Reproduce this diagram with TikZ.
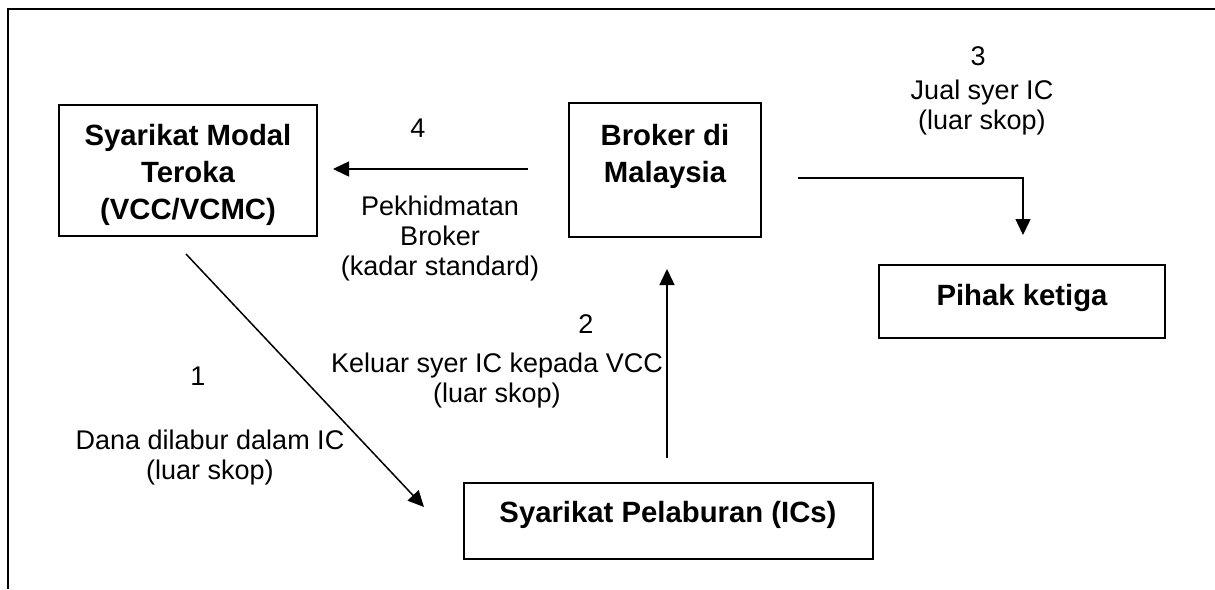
\documentclass[tikz,border=0pt]{standalone}
\usepackage{fontspec}
\setmainfont{Liberation Sans}
\usetikzlibrary{arrows.meta}
\begin{document}
\begin{tikzpicture}[x=1pt,y=-1pt,
  box/.style={draw, line width=1.6pt, inner sep=0pt},
  boxtext/.style={font=\bfseries\fontsize{29.3}{37}\selectfont, align=center, inner sep=0pt},
  lbl/.style={font=\fontsize{27}{30}\selectfont, align=center, inner sep=0pt},
  arr/.style={line width=1.5pt, -{Triangle[length=16pt,width=15pt]}}]
\useasboundingbox (0,0) rectangle (1215,589);
\draw[line width=1.6pt] (8,589) -- (8,9) -- (1215,9);

% boxes
\node[box, minimum width=258pt, minimum height=131pt] (vcc) at (188,170.5) {};
\node[box, minimum width=192pt, minimum height=134pt] (broker) at (665,170) {};
\node[box, minimum width=286pt, minimum height=73pt] (pihak) at (1022,301.5) {};
\node[box, minimum width=409pt, minimum height=76pt] (ics) at (668.5,521) {};

\node[boxtext] (vcct) at (188,174.5) {Syarikat Modal\\Teroka\\(VCC/VCMC)};
\node[boxtext] (brokert) at (665,156.5) {Broker di\\Malaysia};
\node[boxtext] (pihakt) at (1022,297.5) {Pihak ketiga};
\node[boxtext] (icst) at (668,514.5) {Syarikat Pelaburan (ICs)};

% connectors
\coordinate (a4s) at (528,169);
\coordinate (a4e) at (333,169);
\draw[arr] (a4s) -- (a4e);
\coordinate (a3s) at (798,178);
\coordinate (a3e) at (1023,235);
\draw[arr] (a3s) -| (a3e);
\coordinate (a2s) at (667,458);
\coordinate (a2e) at (667,269);
\draw[arr] (a2s) -- (a2e);
\coordinate (a1s) at (186,254);
\coordinate (a1e) at (424,507);
\draw[arr] (a1s) -- (a1e);

% labels
\node[lbl, anchor=base] (n4) at (418,137) {4};
\node[lbl] (t4) at (440,239) {Pekhidmatan\\Broker\\(kadar standard)};
\node[lbl, anchor=base] (n3) at (978,65) {3};
\node[lbl] (t3) at (982,108) {Jual syer IC\\(luar skop)};
\node[lbl, anchor=base] (n2) at (586,333) {2};
\node[lbl] (t2) at (497,381) {Keluar syer IC kepada VCC\\(luar skop)};
\node[lbl, anchor=base] (n1) at (198,385) {1};
\node[lbl] (t1) at (210,458) {Dana dilabur dalam IC\\(luar skop)};
\end{tikzpicture}
\end{document}
